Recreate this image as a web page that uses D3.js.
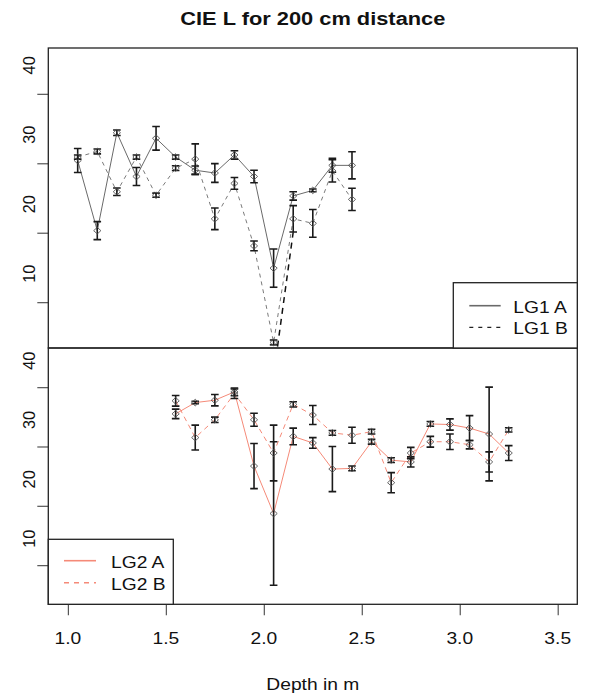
<!DOCTYPE html>
<html>
<head>
<meta charset="utf-8">
<script src="https://cdn.jsdelivr.net/npm/d3@7"></script>
<style>
  body { margin: 0; background: #fff; }
  text { font-family: "Liberation Sans", Arial, sans-serif; fill: #111; }
</style>
</head>
<body>
<script>
// depth positions (m)
const depthTop = [1.05, 1.15, 1.25, 1.35, 1.45, 1.55, 1.65, 1.75, 1.85, 1.95, 2.05, 2.15, 2.25, 2.35, 2.45]
const depthBottom = [1.55, 1.65, 1.75, 1.85, 1.95, 2.05, 2.15, 2.25, 2.35, 2.45, 2.55, 2.65, 2.75, 2.85, 2.95, 3.05, 3.15, 3.25]

// LG1 (top panel)
const lg1A    = [30.4, 20.3, 34.4, 28.1, 33.6, 30.9, 29.0, 28.6, 31.2, 28.1, 14.9, 25.3, 26.1, 29.7, 29.7]
const lg1AErr = [1.73, 1.3, 0.4, 1.3, 1.7, 0.3, 0.6, 1.35, 0.6, 0.9, 2.75, 0.6, 0.2, 1.0, 1.95]
const lg1B    = [30.9, 31.7, 25.9, 30.9, 25.4, 29.3, 30.6, 22.0, 27.1, 18.1, 4.2, 22.0, 21.35, 28.9, 24.8]
const lg1BErr = [0.3, 0.35, 0.55, 0.3, 0.3, 0.35, 2.2, 1.55, 0.85, 0.7, 0.35, 1.9, 2.0, 1.6, 1.6]
// the dark dashed stroke running up to the 2.15 bar
const lg1BDark = [[2.07, 3.6], [2.15, 20.1]]

// LG2 (bottom panel)
const lg2A    = [35.5, 37.4, 37.8, 39.2, 26.7, 18.7, 31.7, 30.6, 26.2, 26.3, 30.8, 27.7, 27.4, 33.8, 33.7, 33.1, 32.1, 28.9]
const lg2AErr = [0.8, 0.2, 0.95, 0.65, 3.8, 12.1, 1.4, 0.9, 3.8, 0.4, 0.4, 0.4, 0.85, 0.4, 0.95, 2.1, 7.9, 1.25]
const lg2B    = [37.7, 31.5, 34.5, 38.9, 34.5, 28.9, 37.1, 35.3, 32.3, 31.9, 32.5, 23.9, 28.9, 30.8, 30.8, 30.3, 27.4, 32.8]
const lg2BErr = [0.9, 2.1, 0.45, 0.8, 1.1, 4.7, 0.45, 1.6, 0.4, 1.35, 0.4, 1.7, 0.95, 0.9, 1.3, 0.7, 1.7, 0.35]

const xTicks = [1.0, 1.5, 2.0, 2.5, 3.0, 3.5]
const yTicks = [10, 20, 30, 40]

const W = 591, H = 697
const sx = 1.18   // text in the picture is a bit wide

const svg = d3.select("body").append("svg")
    .attr("width", W)
    .attr("height", H)

const x = d3.scaleLinear().domain([0.9, 3.6]).range([48.3, 577.3])
const yTop = d3.scaleLinear().domain([3.4, 46.6]).range([348, 48])
const yBot = d3.scaleLinear().domain([3.4, 46.6]).range([604.3, 348])

function label(g, px, py, str, size, anchor, weight) {
    return g.append("text")
        .attr("transform", `translate(${px},${py}) scale(${sx},1)`)
        .attr("text-anchor", anchor || "middle")
        .attr("font-size", size)
        .attr("font-weight", weight || "normal")
        .text(str)
}

const defs = svg.append("defs")
defs.append("clipPath").attr("id", "clipTop").append("rect")
    .attr("x", 48.3).attr("y", 48).attr("width", 529).attr("height", 300)
defs.append("clipPath").attr("id", "clipBot").append("rect")
    .attr("x", 48.3).attr("y", 348).attr("width", 529).attr("height", 256.3)

const diamond = "M0,-3.3L3.6,0L0,3.3L-3.6,0Z"

function drawSeries(g, y, xs, vals, color, dash) {
    const line = d3.line().x((d, i) => x(xs[i])).y(d => y(d))
    g.append("path")
        .datum(vals)
        .attr("d", line)
        .attr("fill", "none")
        .attr("stroke", color)
        .attr("stroke-width", 1)
        .attr("stroke-dasharray", dash)
}

function drawBars(g, y, xs, vals, errs) {
    const bars = g.append("g")
    vals.forEach(function(v, i) {
        const cx = x(xs[i])
        const lo = y(v - errs[i]), hi = y(v + errs[i])
        bars.append("line").attr("x1", cx).attr("x2", cx).attr("y1", lo).attr("y2", hi)
        bars.append("line").attr("x1", cx - 3.8).attr("x2", cx + 3.8).attr("y1", lo).attr("y2", lo)
        bars.append("line").attr("x1", cx - 3.8).attr("x2", cx + 3.8).attr("y1", hi).attr("y2", hi)
    })
    bars.attr("stroke", "#1a1a1a").attr("stroke-width", 1.6)
    g.selectAll(null)
        .data(vals)
        .enter()
        .append("path")
            .attr("d", diamond)
            .attr("transform", (d, i) => `translate(${x(xs[i])},${y(d)})`)
            .attr("fill", "none")
            .attr("stroke", "#555")
            .attr("stroke-width", 0.9)
}

// top panel
const gTop = svg.append("g").attr("clip-path", "url(#clipTop)")
drawSeries(gTop, yTop, depthTop, lg1A, "#6a6a6a", null)
drawSeries(gTop, yTop, depthTop, lg1B, "#7a7a7a", "4,4")
gTop.append("path")
    .datum(lg1BDark)
    .attr("d", d3.line().x(d => x(d[0])).y(d => yTop(d[1])))
    .attr("fill", "none")
    .attr("stroke", "#111")
    .attr("stroke-width", 1.5)
    .attr("stroke-dasharray", "6,5")
drawBars(gTop, yTop, depthTop, lg1A, lg1AErr)
drawBars(gTop, yTop, depthTop, lg1B, lg1BErr)

// bottom panel
const gBot = svg.append("g").attr("clip-path", "url(#clipBot)")
drawSeries(gBot, yBot, depthBottom, lg2A, "#f58a78", null)
drawSeries(gBot, yBot, depthBottom, lg2B, "#f58a78", "5,4")
drawBars(gBot, yBot, depthBottom, lg2A, lg2AErr)
drawBars(gBot, yBot, depthBottom, lg2B, lg2BErr)

// y axes
function yAxis(y, offset) {
    const ax = svg.append("g")
        .attr("transform", "translate(48.3,0)")
        .call(d3.axisLeft(y).tickValues(yTicks).tickSize(11).tickFormat(d3.format("d")))
    ax.select(".domain").remove()
    ax.selectAll("line").attr("stroke", "#555").attr("stroke-width", 1.2)
    ax.selectAll("text")
        .attr("x", null).attr("dy", null)
        .attr("text-anchor", "middle")
        .attr("font-size", 16.3)
        .attr("font-family", null)
        .attr("fill", "#111")
        .attr("transform", `translate(-13,${offset}) rotate(-90)`)
}
yAxis(yTop, -29)
yAxis(yBot, -27)

// x axis
const xa = svg.append("g")
    .attr("transform", "translate(0,604.3)")
    .call(d3.axisBottom(x).tickValues(xTicks).tickSize(11).tickFormat(d3.format(".1f")))
xa.select(".domain").remove()
xa.selectAll("line").attr("stroke", "#555").attr("stroke-width", 1.2)
xa.selectAll("text").remove()
xTicks.forEach(t => label(svg, x(t), 644, d3.format(".1f")(t), 16.3))

// panel frames
svg.append("rect").attr("x", 48.3).attr("y", 48).attr("width", 529).attr("height", 300)
    .attr("fill", "none").attr("stroke", "#222").attr("stroke-width", 1.3)
svg.append("rect").attr("x", 48.3).attr("y", 348).attr("width", 529).attr("height", 256.3)
    .attr("fill", "none").attr("stroke", "#222").attr("stroke-width", 1.3)

// legends
function legend(bx, by, bw, bh, items) {
    const lg = svg.append("g")
    lg.append("rect").attr("x", bx).attr("y", by).attr("width", bw).attr("height", bh)
        .attr("fill", "#fff").attr("stroke", "#222").attr("stroke-width", 1.3)
    items.forEach(function(it) {
        lg.append("line")
            .attr("x1", it.x1).attr("x2", it.x2).attr("y1", it.y).attr("y2", it.y)
            .attr("stroke", it.color).attr("stroke-width", it.w)
            .attr("stroke-dasharray", it.dash)
        label(lg, it.tx, it.y + 6.8, it.name, 16.3, "start")
    })
}
legend(453.3, 282.7, 124, 65.3, [
    {name: "LG1 A", x1: 469.3, x2: 500.7, y: 305.7, tx: 513.3, color: "#6a6a6a", w: 1.6, dash: null},
    {name: "LG1 B", x1: 469.3, x2: 500.7, y: 327.3, tx: 513.3, color: "#222", w: 1.2, dash: "4,5"}
])
legend(48.3, 539.3, 125, 65, [
    {name: "LG2 A", x1: 64, x2: 96, y: 560.7, tx: 111, color: "#f58a78", w: 1.6, dash: null},
    {name: "LG2 B", x1: 64, x2: 96, y: 582.7, tx: 111, color: "#f58a78", w: 1.4, dash: "5,5"}
])

// titles
label(svg, 312.8, 24.5, "CIE L for 200 cm distance", 18.5, "middle", "bold")
label(svg, 312.8, 690, "Depth in m", 16.3)
</script>
</body>
</html>
